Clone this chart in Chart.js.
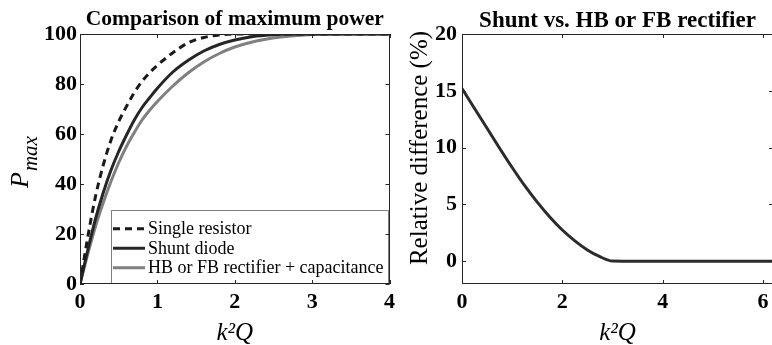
<!DOCTYPE html>
<html>
<head>
<meta charset="utf-8">
<script src="https://cdn.jsdelivr.net/npm/chart.js@4.4.1/dist/chart.umd.min.js"></script>
<style>
  html, body { margin: 0; padding: 0; background: #fff; overflow: hidden; width: 772px; height: 345px; }
  canvas { position: absolute; top: 0; }
  #powerChart { left: 0; }
  #diffChart { left: 395px; }
</style>
</head>
<body>
<canvas id="powerChart" width="400" height="345"></canvas>
<canvas id="diffChart" width="380" height="345"></canvas>
<script>
// k^2 Q sample points and normalised max power (%) for each interface
const kqPower = [0, 0.1, 0.2, 0.3, 0.4, 0.5, 0.6, 0.7, 0.8, 0.9, 1.0, 1.2, 1.4, 1.6, 1.8, 2.0, 2.2, 2.4, 2.6, 2.8, 3.0, 3.5, 4.0];
const singleResistor = [0, 18.7, 35, 47.5, 57.5, 65, 71, 76.5, 81, 84.5, 87.5, 92.5, 96.5, 98.6, 99.6, 100, 100, 100, 100, 100, 100, 100, 100];
const shuntDiode = [0, 13.5, 26, 36.5, 45.5, 53, 59.5, 65.5, 70.5, 74.5, 78.3, 84.8, 89.5, 93.2, 95.8, 97.6, 98.8, 99.5, 99.9, 100, 100, 100, 100];
const rectifierCap = [0, 12, 23, 32.5, 41, 48.5, 55, 60.5, 65.5, 69.5, 73, 79.2, 84.5, 88.8, 92.2, 94.8, 96.6, 97.9, 98.8, 99.4, 99.8, 100, 100];
const powerXTicks = [0, 1, 2, 3, 4];
const powerYTicks = [0, 20, 40, 60, 80, 100];

// relative difference between shunt diode and HB/FB rectifier (%)
const kqDiff = [0, 0.25, 0.5, 0.75, 1.0, 1.25, 1.5, 1.75, 2.0, 2.25, 2.5, 2.75, 3.0, 3.5, 4.0, 4.5, 5.0, 5.5, 6.0, 6.2];
const relDiff = [15.2, 13.45, 11.7, 9.95, 8.25, 6.65, 5.2, 3.9, 2.75, 1.8, 1.0, 0.4, 0.02, 0, 0, 0, 0, 0, 0, 0];
const diffXTicks = [0, 2, 4, 6];
const diffYTicks = [0, 5, 10, 15, 20];

const SERIF = '"Liberation Serif", "Times New Roman", serif';
const tickFont = { family: SERIF, size: 22, weight: 'bold' };

const pts = (xs, ys) => xs.map((x, i) => ({ x: x, y: ys[i] }));
const fixTicks = list => s => { s.ticks = list.map(v => ({ value: v })); };

// MATLAB-style box with inward ticks on all four sides
const frameTicks = {
  id: 'frameTicks',
  afterDraw(chart) {
    const { ctx, chartArea: a, scales: { x, y } } = chart;
    const len = 4;
    ctx.save();
    ctx.strokeStyle = '#262626';
    ctx.lineWidth = 1;
    ctx.strokeRect(Math.round(a.left) + 0.5, Math.round(a.top) + 0.5, Math.round(a.width) - 1, Math.round(a.height) - 1);
    ctx.beginPath();
    x.ticks.forEach(t => {
      const px = Math.round(x.getPixelForValue(t.value)) + 0.5;
      ctx.moveTo(px, a.bottom); ctx.lineTo(px, a.bottom - len);
      ctx.moveTo(px, a.top); ctx.lineTo(px, a.top + len);
    });
    y.ticks.forEach(t => {
      const py = Math.round(y.getPixelForValue(t.value)) + 0.5;
      ctx.moveTo(a.left, py); ctx.lineTo(a.left + len, py);
      ctx.moveTo(a.right, py); ctx.lineTo(a.right - len, py);
    });
    ctx.stroke();
    ctx.restore();
  }
};

// legend box in the lower right corner of the plot
const boxLegend = {
  id: 'boxLegend',
  afterDatasetsDraw(chart) {
    const { ctx, chartArea: a } = chart;
    const sets = chart.data.datasets;
    ctx.save();
    ctx.font = `18px ${SERIF}`;
    const textW = Math.max(...sets.map(d => ctx.measureText(d.label).width));
    const rowH = 19.5, sample = 32;
    const w = Math.round(2 + sample + 3 + textW + 4);
    const h = Math.round(rowH * sets.length + 14.5);
    const right = Math.round(a.right) - 2, bottom = Math.round(a.bottom) - 1;
    const left = right - w, top = bottom - h;
    ctx.fillStyle = '#fff';
    ctx.fillRect(left, top, w, h);
    ctx.strokeStyle = '#808080';
    ctx.lineWidth = 1;
    ctx.strokeRect(left + 0.5, top + 0.5, w, h);
    sets.forEach((d, i) => {
      const cy = top + 9 + rowH * (i + 0.5);
      ctx.beginPath();
      ctx.setLineDash(d.borderDash || []);
      ctx.strokeStyle = d.borderColor;
      ctx.lineWidth = d.borderWidth;
      ctx.moveTo(left + 2, cy);
      ctx.lineTo(left + 2 + sample, cy);
      ctx.stroke();
      ctx.setLineDash([]);
      ctx.fillStyle = '#000';
      ctx.textBaseline = 'middle';
      ctx.fillText(d.label, left + 2 + sample + 3, cy + 1);
    });
    ctx.restore();
  }
};

// rotated y label with subscript: P_max
const pmaxLabel = {
  id: 'pmaxLabel',
  afterDraw(chart) {
    const { ctx } = chart;
    ctx.save();
    ctx.translate(28, 188);
    ctx.rotate(-Math.PI / 2);
    ctx.fillStyle = '#000';
    ctx.textBaseline = 'alphabetic';
    ctx.font = `italic 26px ${SERIF}`;
    ctx.fillText('P', 0, 0);
    const pw = ctx.measureText('P').width;
    ctx.font = `italic 21px ${SERIF}`;
    ctx.fillText('max', pw + 1, 9);
    ctx.restore();
  }
};

const diffLabel = {
  id: 'diffLabel',
  afterDraw(chart) {
    const { ctx } = chart;
    ctx.save();
    ctx.translate(25, 148);
    ctx.rotate(-Math.PI / 2);
    ctx.fillStyle = '#000';
    ctx.textAlign = 'center';
    ctx.textBaseline = 'middle';
    ctx.font = `25px ${SERIF}`;
    ctx.fillText('Relative difference (%)', 0, 0);
    ctx.restore();
  }
};

function axis(min, max, ticks, pad, extra) {
  return Object.assign({
    type: 'linear',
    min: min,
    max: max,
    afterBuildTicks: fixTicks(ticks),
    grid: { display: false, drawTicks: false },
    border: { display: false },
    ticks: { font: tickFont, color: '#000', padding: pad, maxRotation: 0 }
  }, extra);
}

const xTitle = {
  display: true,
  text: 'k²Q',
  color: '#000',
  font: { family: SERIF, size: 25, style: 'italic', lineHeight: 0.96 },
  padding: 0
};

function plotTitle(text, size) {
  return {
    display: true,
    text: text,
    fullSize: false,
    color: '#000',
    font: { family: SERIF, size: size, weight: 'bold', lineHeight: 1.2 },
    padding: { top: 7, bottom: 34 - 7 - size * 1.2 }
  };
}

new Chart(document.getElementById('powerChart'), {
  type: 'line',
  data: {
    datasets: [
      { label: 'Single resistor', data: pts(kqPower, singleResistor), borderColor: '#1a1a1a', borderWidth: 3, borderDash: [7, 5] },
      { label: 'Shunt diode', data: pts(kqPower, shuntDiode), borderColor: '#262626', borderWidth: 3 },
      { label: 'HB or FB rectifier + capacitance', data: pts(kqPower, rectifierCap), borderColor: '#808080', borderWidth: 3 }
    ]
  },
  options: {
    responsive: false,
    devicePixelRatio: 1,
    animation: false,
    events: [],
    layout: { padding: { right: 9 } },
    elements: { point: { radius: 0 }, line: { cubicInterpolationMode: 'monotone' } },
    scales: {
      x: axis(0, 4, powerXTicks, 5, { afterFit: s => { s.height = 61; }, title: xTitle }),
      y: axis(0, 100, powerYTicks, 3, { afterFit: s => { s.width = 80; } })
    },
    plugins: {
      legend: { display: false },
      tooltip: { enabled: false },
      title: plotTitle('Comparison of maximum power', 21.5)
    }
  },
  plugins: [boxLegend, frameTicks, pmaxLabel]
});

new Chart(document.getElementById('diffChart'), {
  type: 'line',
  data: {
    datasets: [
      { label: 'Relative difference', data: pts(kqDiff, relDiff), borderColor: '#2b2b2b', borderWidth: 3 }
    ]
  },
  options: {
    responsive: false,
    devicePixelRatio: 1,
    animation: false,
    events: [],
    layout: { padding: { right: 2 } },
    elements: { point: { radius: 0 }, line: { cubicInterpolationMode: 'monotone' } },
    scales: {
      x: axis(0, 6.2, diffXTicks, 5, { afterFit: s => { s.height = 61; }, title: xTitle }),
      y: axis(-2, 20, diffYTicks, 5, { afterFit: s => { s.width = 67; } })
    },
    plugins: {
      legend: { display: false },
      tooltip: { enabled: false },
      title: plotTitle('Shunt vs. HB or FB rectifier', 23)
    }
  },
  plugins: [frameTicks, diffLabel]
});
</script>
</body>
</html>
